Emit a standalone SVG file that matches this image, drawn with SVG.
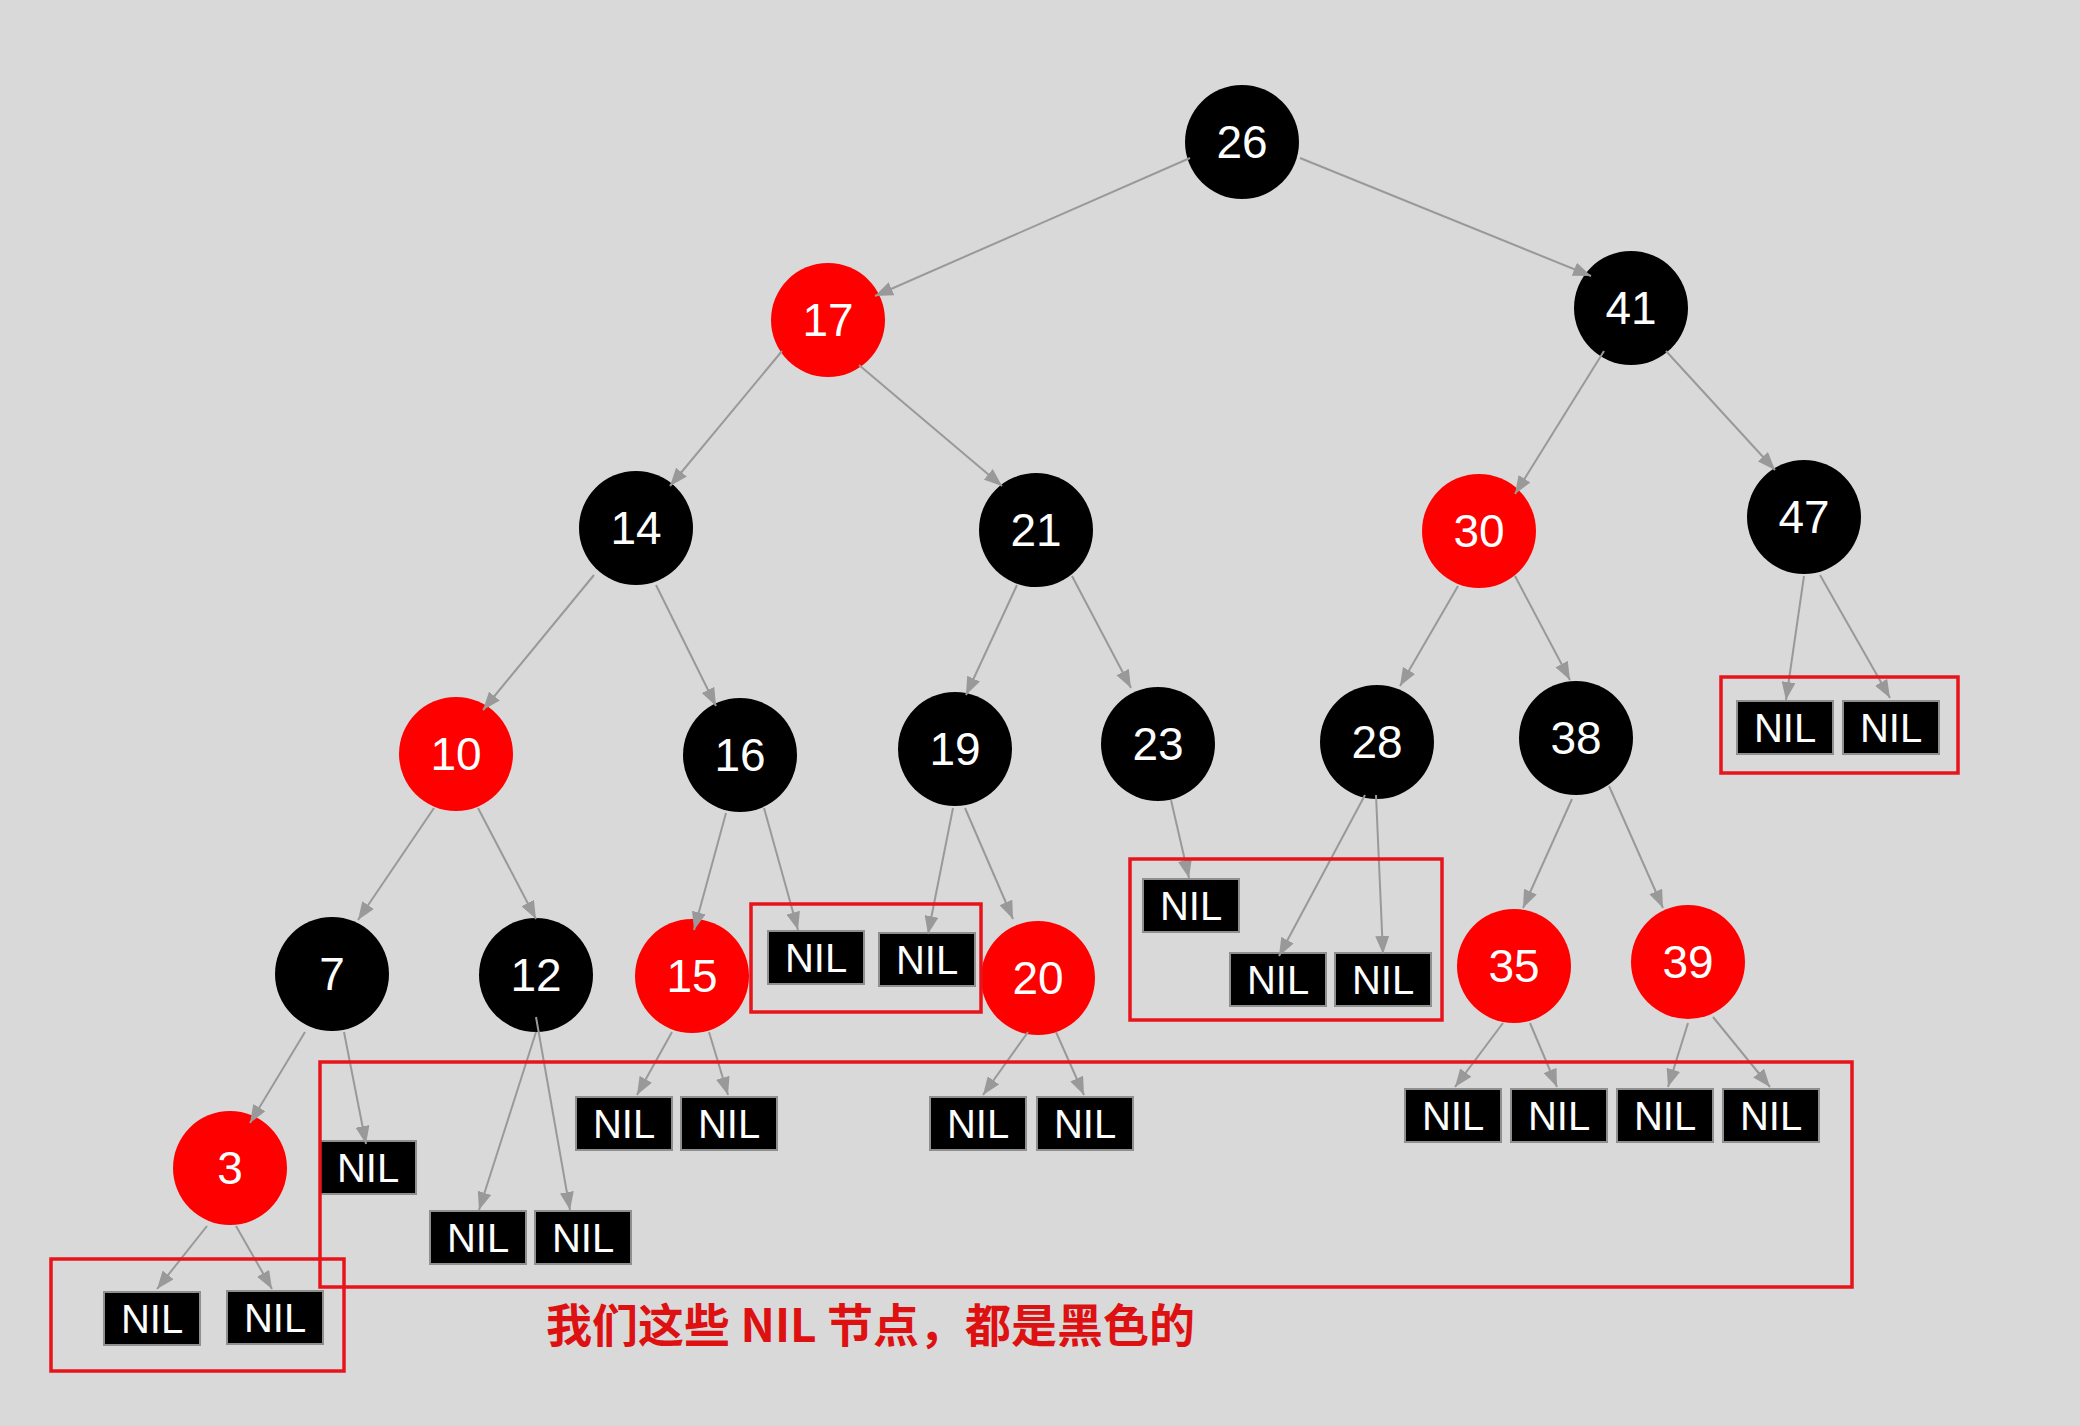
<svg xmlns="http://www.w3.org/2000/svg" width="2080" height="1426" viewBox="0 0 2080 1426">
<defs>
<marker id="arr" markerUnits="userSpaceOnUse" markerWidth="18" markerHeight="14" refX="18" refY="7" orient="auto">
<path d="M0,0 L18,7 L0,14 Z" fill="#999999"/>
</marker>
</defs>
<style>
.blk{fill:#000000}
.red{fill:#ff0000}
.num{font-family:"Liberation Sans",Arial,sans-serif;font-size:46px;fill:#ffffff;text-anchor:middle}
.nilbox{fill:#000000;stroke:#8f8f8f;stroke-width:2}
.nil{font-family:"Liberation Sans",Arial,sans-serif;font-size:40px;fill:#ffffff;text-anchor:middle}
.e{stroke:#999999;stroke-width:2;fill:none;marker-end:url(#arr)}
.hl{fill:none;stroke:#e8141c;stroke-width:3.5}
.note{font-family:"Noto Sans CJK SC","Noto Sans",sans-serif;font-size:46px;font-weight:bold;fill:#dd1111}
</style>
<rect x="0" y="0" width="2080" height="1426" fill="#d9d9d9"/>

<g id="nodes">
<g id="n26"><circle class="blk" cx="1242" cy="142" r="57"/><text class="num" x="1242" y="158">26</text></g>
<g id="n17"><circle class="red" cx="828" cy="320" r="57"/><text class="num" x="828" y="336">17</text></g>
<g id="n41"><circle class="blk" cx="1631" cy="308" r="57"/><text class="num" x="1631" y="324">41</text></g>
<g id="n14"><circle class="blk" cx="636" cy="528" r="57"/><text class="num" x="636" y="544">14</text></g>
<g id="n21"><circle class="blk" cx="1036" cy="530" r="57"/><text class="num" x="1036" y="546">21</text></g>
<g id="n30"><circle class="red" cx="1479" cy="531" r="57"/><text class="num" x="1479" y="547">30</text></g>
<g id="n47"><circle class="blk" cx="1804" cy="517" r="57"/><text class="num" x="1804" y="533">47</text></g>
<g id="n10"><circle class="red" cx="456" cy="754" r="57"/><text class="num" x="456" y="770">10</text></g>
<g id="n16"><circle class="blk" cx="740" cy="755" r="57"/><text class="num" x="740" y="771">16</text></g>
<g id="n19"><circle class="blk" cx="955" cy="749" r="57"/><text class="num" x="955" y="765">19</text></g>
<g id="n23"><circle class="blk" cx="1158" cy="744" r="57"/><text class="num" x="1158" y="760">23</text></g>
<g id="n28"><circle class="blk" cx="1377" cy="742" r="57"/><text class="num" x="1377" y="758">28</text></g>
<g id="n38"><circle class="blk" cx="1576" cy="738" r="57"/><text class="num" x="1576" y="754">38</text></g>
<g id="n7"><circle class="blk" cx="332" cy="974" r="57"/><text class="num" x="332" y="990">7</text></g>
<g id="n12"><circle class="blk" cx="536" cy="975" r="57"/><text class="num" x="536" y="991">12</text></g>
<g id="n15"><circle class="red" cx="692" cy="976" r="57"/><text class="num" x="692" y="992">15</text></g>
<g id="n20"><circle class="red" cx="1038" cy="978" r="57"/><text class="num" x="1038" y="994">20</text></g>
<g id="n35"><circle class="red" cx="1514" cy="966" r="57"/><text class="num" x="1514" y="982">35</text></g>
<g id="n39"><circle class="red" cx="1688" cy="962" r="57"/><text class="num" x="1688" y="978">39</text></g>
<g id="n3"><circle class="red" cx="230" cy="1168" r="57"/><text class="num" x="230" y="1184">3</text></g>

<g id="nil3a"><rect class="nilbox" x="104" y="1292" width="96" height="53"/><text class="nil" x="152" y="1333">NIL</text></g>
<g id="nil3b"><rect class="nilbox" x="227" y="1291" width="96" height="53"/><text class="nil" x="275" y="1332">NIL</text></g>
<g id="nil7"><rect class="nilbox" x="320" y="1141" width="96" height="53"/><text class="nil" x="368" y="1182">NIL</text></g>
<g id="nil12a"><rect class="nilbox" x="430" y="1211" width="96" height="53"/><text class="nil" x="478" y="1252">NIL</text></g>
<g id="nil12b"><rect class="nilbox" x="535" y="1211" width="96" height="53"/><text class="nil" x="583" y="1252">NIL</text></g>
<g id="nil15a"><rect class="nilbox" x="576" y="1097" width="96" height="53"/><text class="nil" x="624" y="1138">NIL</text></g>
<g id="nil15b"><rect class="nilbox" x="681" y="1097" width="96" height="53"/><text class="nil" x="729" y="1138">NIL</text></g>
<g id="nil16"><rect class="nilbox" x="768" y="931" width="96" height="53"/><text class="nil" x="816" y="972">NIL</text></g>
<g id="nil19"><rect class="nilbox" x="879" y="933" width="96" height="53"/><text class="nil" x="927" y="974">NIL</text></g>
<g id="nil20a"><rect class="nilbox" x="930" y="1097" width="96" height="53"/><text class="nil" x="978" y="1138">NIL</text></g>
<g id="nil20b"><rect class="nilbox" x="1037" y="1097" width="96" height="53"/><text class="nil" x="1085" y="1138">NIL</text></g>
<g id="nil23"><rect class="nilbox" x="1143" y="879" width="96" height="53"/><text class="nil" x="1191" y="920">NIL</text></g>
<g id="nil28a"><rect class="nilbox" x="1230" y="953" width="96" height="53"/><text class="nil" x="1278" y="994">NIL</text></g>
<g id="nil28b"><rect class="nilbox" x="1335" y="953" width="96" height="53"/><text class="nil" x="1383" y="994">NIL</text></g>
<g id="nil35a"><rect class="nilbox" x="1405" y="1089" width="96" height="53"/><text class="nil" x="1453" y="1130">NIL</text></g>
<g id="nil35b"><rect class="nilbox" x="1511" y="1089" width="96" height="53"/><text class="nil" x="1559" y="1130">NIL</text></g>
<g id="nil39a"><rect class="nilbox" x="1617" y="1089" width="96" height="53"/><text class="nil" x="1665" y="1130">NIL</text></g>
<g id="nil39b"><rect class="nilbox" x="1723" y="1089" width="96" height="53"/><text class="nil" x="1771" y="1130">NIL</text></g>
<g id="nil47a"><rect class="nilbox" x="1737" y="701" width="96" height="53"/><text class="nil" x="1785" y="742">NIL</text></g>
<g id="nil47b"><rect class="nilbox" x="1843" y="701" width="96" height="53"/><text class="nil" x="1891" y="742">NIL</text></g>
</g>

<g id="connectors">
<line class="e" x1="1190" y1="158" x2="875" y2="296"/>
<line class="e" x1="1300" y1="158" x2="1591" y2="276"/>
<line class="e" x1="782" y1="351" x2="670" y2="486"/>
<line class="e" x1="859" y1="365" x2="1002" y2="486"/>
<line class="e" x1="1604" y1="351" x2="1515" y2="494"/>
<line class="e" x1="1666" y1="351" x2="1775" y2="470"/>
<line class="e" x1="594" y1="575" x2="483" y2="710"/>
<line class="e" x1="656" y1="585" x2="716" y2="706"/>
<line class="e" x1="1017" y1="585" x2="966" y2="695"/>
<line class="e" x1="1072" y1="576" x2="1131" y2="688"/>
<line class="e" x1="1458" y1="586" x2="1400" y2="686"/>
<line class="e" x1="1515" y1="576" x2="1570" y2="680"/>
<line class="e" x1="1804" y1="576" x2="1786" y2="700"/>
<line class="e" x1="1820" y1="575" x2="1890" y2="698"/>
<line class="e" x1="434" y1="808" x2="358" y2="920"/>
<line class="e" x1="478" y1="808" x2="536" y2="919"/>
<line class="e" x1="726" y1="813" x2="694" y2="930"/>
<line class="e" x1="764" y1="808" x2="798" y2="930"/>
<line class="e" x1="953" y1="808" x2="928" y2="934"/>
<line class="e" x1="965" y1="808" x2="1013" y2="919"/>
<line class="e" x1="1171" y1="800" x2="1189" y2="878"/>
<line class="e" x1="1365" y1="795" x2="1279" y2="956"/>
<line class="e" x1="1376" y1="795" x2="1383" y2="954"/>
<line class="e" x1="1572" y1="799" x2="1523" y2="908"/>
<line class="e" x1="1609" y1="786" x2="1663" y2="908"/>
<line class="e" x1="305" y1="1032" x2="250" y2="1123"/>
<line class="e" x1="344" y1="1032" x2="366" y2="1144"/>
<line class="e" x1="536" y1="1032" x2="479" y2="1210"/>
<line class="e" x1="536" y1="1017" x2="570" y2="1210"/>
<line class="e" x1="672" y1="1032" x2="637" y2="1095"/>
<line class="e" x1="709" y1="1032" x2="728" y2="1095"/>
<line class="e" x1="1028" y1="1032" x2="983" y2="1095"/>
<line class="e" x1="1056" y1="1032" x2="1084" y2="1095"/>
<line class="e" x1="1503" y1="1023" x2="1455" y2="1087"/>
<line class="e" x1="1530" y1="1023" x2="1557" y2="1087"/>
<line class="e" x1="1688" y1="1023" x2="1668" y2="1087"/>
<line class="e" x1="1713" y1="1017" x2="1770" y2="1087"/>
<line class="e" x1="207" y1="1226" x2="157" y2="1289"/>
<line class="e" x1="236" y1="1226" x2="272" y2="1289"/>
</g>

<g id="highlights">
<rect class="hl" x="51" y="1259" width="293" height="112"/>
<rect class="hl" x="320" y="1062" width="1532" height="225"/>
<rect class="hl" x="751" y="904" width="230" height="108"/>
<rect class="hl" x="1130" y="859" width="312" height="161"/>
<rect class="hl" x="1721" y="677" width="237" height="96"/>
</g>

<text class="note" x="546" y="1342">我们这些 NIL 节点，都是黑色的</text>
</svg>
